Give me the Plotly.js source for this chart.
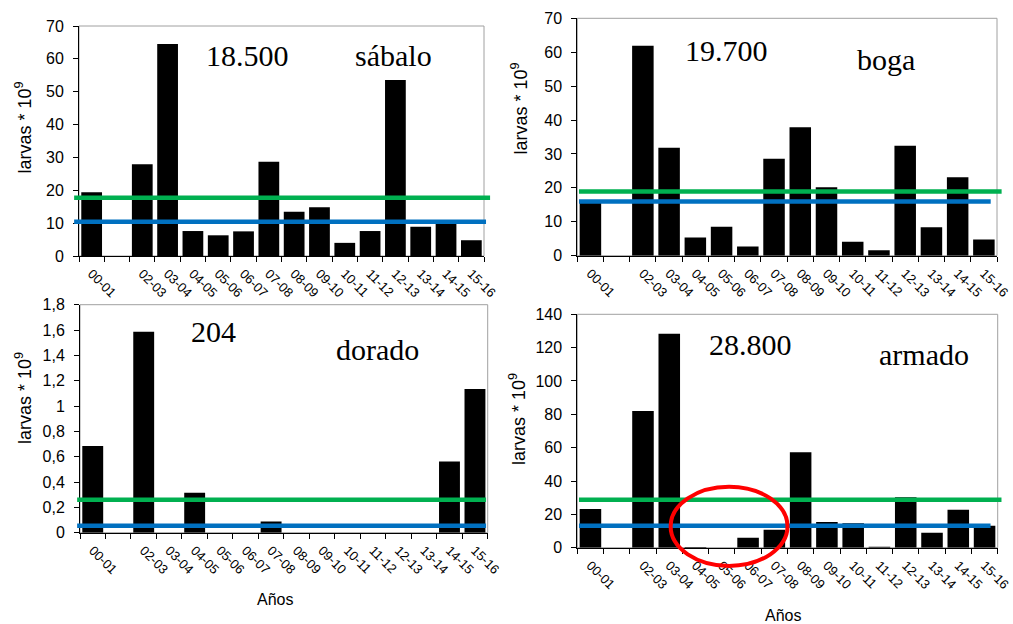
<!DOCTYPE html>
<html>
<head>
<meta charset="utf-8">
<script src="https://cdn.plot.ly/plotly-3.0.1.min.js"></script>
<style>
html,body{margin:0;padding:0;background:#fff;}
#chart{width:1013px;height:624px;}
</style>
</head>
<body>
<div id="chart"></div>
<script>
// ---- data ----
const seasons = ["00-01","01-02","02-03","03-04","04-05","05-06","06-07","07-08","08-09","09-10","10-11","11-12","12-13","13-14","14-15","15-16"];
const tickLabels = ["00-01","","02-03","03-04","04-05","05-06","06-07","07-08","08-09","09-10","10-11","11-12","12-13","13-14","14-15","15-16"];

const sabalo = [19.4,0,27.9,64.5,7.6,6.3,7.5,28.7,13.5,14.8,4.0,7.6,53.6,8.9,10.2,4.8];
const boga   = [16.0,0,61.9,31.8,5.4,8.5,2.7,28.6,37.9,20.2,4.1,1.6,32.4,8.4,23.1,4.8];
const dorado = [0.684,0,1.587,0,0.316,0,0,0.089,0,0,0,0,0,0,0.563,1.134];
const armado = [23.2,0,82,128.4,0.4,0,6,10.8,57.2,15.4,14.6,0.6,30.2,9,22.8,13.2];

const speciesNames = ["sábalo","boga","dorado","armado"];
const totals = ["18.500","19.700","204","28.800"];
const greenLevels = [17.7,18.9,0.26,28.8];
const blueLevels  = [10.4,16.0,0.055,13.2];
const yMax = [70,70,1.8,140];
const yStep = [10,10,0.2,20];
const yTitle = 'larvas * 10<sup>9</sup>';
const xTitle = 'Años';

// ---- layout geometry ----
const W = 1013, H = 624;
const panels = [
  {x0:79,  x1:484,   yT:26,    yB:256,   gx:[-0.012,1.015], bx:[-0.012,1.005], tot:[247,55], nm:[393,55], yt:[24.5,128], anos:null},
  {x0:577.3,x1:997,  yT:18.3,  yB:255.7, gx:[0.004,1.011],  bx:[0.004,0.985],  tot:[726,50], nm:[886,59], yt:[519.5,109], anos:null},
  {x0:80,  x1:487.7, yT:304.7, yB:532.7, gx:[-0.007,0.996], bx:[-0.007,0.996], tot:[213,331], nm:[377,349], yt:[23,398], anos:[275,599]},
  {x0:577.3,x1:997.7,yT:314.3, yB:547.7, gx:[0.004,1.009],  bx:[0.004,0.983],  tot:[750,344], nm:[924,354], yt:[518,419], anos:[783,615]}
];
const series = [sabalo, boga, dorado, armado];

const data = [];
const layout = {
  width: W, height: H,
  margin:{l:0,r:0,t:0,b:0},
  paper_bgcolor:'#ffffff', plot_bgcolor:'#ffffff',
  showlegend:false,
  separators:',.',
  font:{family:'Liberation Sans, Arial, sans-serif', color:'#000', size:16},
  bargap:0.18,
  shapes:[], annotations:[]
};

panels.forEach((p,i)=>{
  const n = i+1;
  const xa = n===1 ? 'x' : 'x'+n;
  const ya = n===1 ? 'y' : 'y'+n;
  const xk = n===1 ? 'xaxis' : 'xaxis'+n;
  const yk = n===1 ? 'yaxis' : 'yaxis'+n;
  data.push({
    type:'bar', x:seasons, y:series[i], xaxis:xa, yaxis:ya,
    marker:{color:'#000000', line:{width:0}}, hoverinfo:'x+y'
  });
  layout[xk] = {
    domain:[p.x0/W, p.x1/W], anchor:ya,
    type:'category', categoryorder:'array', categoryarray:seasons,
    tickmode:'array', tickvals:seasons, ticktext:tickLabels,
    tickson:'boundaries', ticks:'outside', ticklen:5, tickcolor:'#000', tickwidth:1,
    tickangle:45, ticklabelstandoff:4,
    tickfont:{size:13, family:'Liberation Sans, Arial, sans-serif', color:'#000'},
    showline:true, linecolor:'#000', linewidth:1, showgrid:false, zeroline:false,
    fixedrange:true
  };
  layout[yk] = {
    domain:[1-p.yB/H, 1-p.yT/H], anchor:xa,
    range:[0,yMax[i]], dtick:yStep[i], tick0:0,
    ticks:'outside', ticklen:5, tickcolor:'#000', tickwidth:1, ticklabelstandoff:6,
    tickfont:{size:16, family:'Liberation Sans, Arial, sans-serif', color:'#000'},
    showline:true, linecolor:'#000', linewidth:1, showgrid:false, zeroline:false,
    fixedrange:true
  };
  // plot area frame
  layout.shapes.push({type:'rect', xref:xa+' domain', yref:ya+' domain', x0:0,x1:1,y0:0,y1:1,
    line:{color:'#a0a0a0', width:1}, layer:'below'});
  // reference levels
  layout.shapes.push({type:'line', xref:xa+' domain', yref:ya, x0:p.gx[0], x1:p.gx[1], y0:greenLevels[i], y1:greenLevels[i],
    line:{color:'#00b050', width:4.5}});
  layout.shapes.push({type:'line', xref:xa+' domain', yref:ya, x0:p.bx[0], x1:p.bx[1], y0:blueLevels[i], y1:blueLevels[i],
    line:{color:'#0070c0', width:4.5}});
  // y axis title
  layout.annotations.push({xref:'paper', yref:'paper', x:p.yt[0]/W, y:1-p.yt[1]/H, text:yTitle, textangle:-90,
    showarrow:false, xanchor:'center', yanchor:'middle', font:{family:'Liberation Sans, Arial, sans-serif', size:18, color:'#000'}});
  // texts
  layout.annotations.push({xref:'paper', yref:'paper', x:p.tot[0]/W, y:1-p.tot[1]/H, text:totals[i],
    showarrow:false, xanchor:'center', yanchor:'middle', font:{family:'Liberation Serif, Times New Roman, serif', size:30, color:'#000'}});
  layout.annotations.push({xref:'paper', yref:'paper', x:p.nm[0]/W, y:1-p.nm[1]/H, text:speciesNames[i],
    showarrow:false, xanchor:'center', yanchor:'middle', font:{family:'Liberation Serif, Times New Roman, serif', size:30, color:'#000'}});
  if (p.anos) {
    layout.annotations.push({xref:'paper', yref:'paper', x:p.anos[0]/W, y:1-p.anos[1]/H, text:xTitle,
      showarrow:false, xanchor:'center', yanchor:'middle', font:{family:'Liberation Sans, Arial, sans-serif', size:16, color:'#000'}});
  }
});

// red ellipse highlight on armado panel
layout.shapes.push({type:'circle', xref:'x4 domain', yref:'y4 domain', x0:0.222, x1:0.5, y0:-0.078, y1:0.261,
  line:{color:'#ff0000', width:4}});

Plotly.newPlot('chart', data, layout, {displayModeBar:false, staticPlot:true});
</script>
</body>
</html>
